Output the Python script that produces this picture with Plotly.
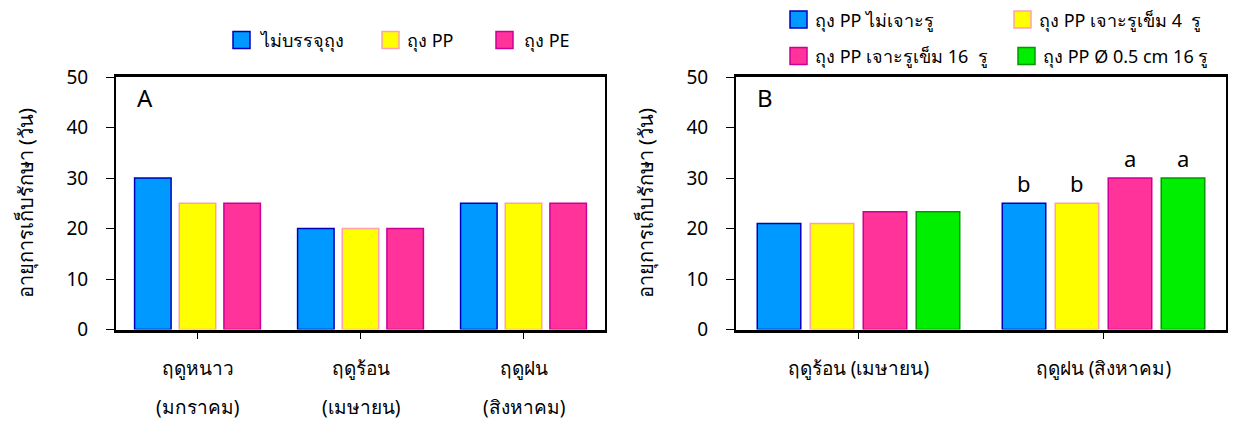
import plotly.graph_objects as go

# ---- data -------------------------------------------------------------
seasons_a = ["ฤดูหนาว", "ฤดูร้อน", "ฤดูฝน"]
months_a = ["(มกราคม)", "(เมษายน)", "(สิงหาคม)"]
names_a = ["ไม่บรรจุถุง", "ถุง PP", "ถุง PE"]
no_bag = [30, 20, 25]
pp_bag = [25, 20, 25]
pe_bag = [25, 20, 25]

seasons_b = ["ฤดูร้อน (เมษายน)", "ฤดูฝน (สิงหาคม)"]
names_b = ["ถุง PP ไม่เจาะรู", "ถุง PP เจาะรูเข็ม 4  รู",
           "ถุง PP เจาะรูเข็ม 16  รู", "ถุง PP Ø 0.5 cm 16 รู"]
pp_no_hole = [21, 25]
pp_pin_4 = [21, 25]
pp_pin_16 = [23.3, 30]
pp_hole_05 = [23.3, 30]
letters_b = [["", "b"], ["", "b"], ["", "a"], ["", "a"]]

y_ticks = [0, 10, 20, 30, 40, 50]
y_title = "อายุการเก็บรักษา (วัน)"

# ---- styling ----------------------------------------------------------
W, H = 1238, 421
FONT = "Tahoma, 'Noto Sans', 'Open Sans', sans-serif"
fills = ["#0099FF", "#FFFF00", "#FF3399", "#00EE00"]
edges = ["#0000BB", "#FFA0B0", "#CC0099", "#009900"]

# plot rectangles (pixels)
A_LEFT, A_RIGHT = 116, 605
B_LEFT, B_RIGHT = 736, 1226
TOP, BOTTOM = 77, 329.5


def px_x(p):
    return p / W


def px_y(p):
    return (H - p) / H


fig = go.Figure()

# Panel A: three bars per season
series_a = [no_bag, pp_bag, pe_bag]
bw_a, slot_a = 0.224, 0.274
for i, (vals, name) in enumerate(zip(series_a, names_a)):
    fig.add_trace(go.Bar(
        x=seasons_a, y=vals, name=name, showlegend=False,
        width=bw_a, offset=(i - 1) * slot_a - bw_a / 2,
        marker=dict(color=fills[i], line=dict(color=edges[i], width=1.5)),
        xaxis="x", yaxis="y",
    ))

# Panel B: four bag treatments per season
series_b = [pp_no_hole, pp_pin_4, pp_pin_16, pp_hole_05]
bw_b, slot_b = 0.1776, 0.2163
cat_px_b = (B_RIGHT - B_LEFT) / len(seasons_b)
for i, (vals, name) in enumerate(zip(series_b, names_b)):
    fig.add_trace(go.Bar(
        x=seasons_b, y=vals, name=name, showlegend=False,
        width=bw_b, offset=(i - 1.5) * slot_b - bw_b / 2,
        marker=dict(color=fills[i], line=dict(color=edges[i], width=1.5)),
        xaxis="x2", yaxis="y2",
    ))

annotations = []
# significance letters above the rainy-season bars
for i, vals in enumerate(series_b):
    for j, letter in enumerate(letters_b[i]):
        if letter:
            annotations.append(dict(
                text=letter, x=seasons_b[j], y=vals[j], xref="x2", yref="y2",
                xshift=(i - 1.5) * slot_b * cat_px_b, yshift=3,
                xanchor="center", yanchor="bottom", showarrow=False,
                font=dict(size=22, color="black", family=FONT)))

# second line of the season labels in panel A
for s, m in zip(seasons_a, months_a):
    annotations.append(dict(text=m, x=s, y=px_y(407), xref="x", yref="paper",
                            xanchor="center", yanchor="middle", showarrow=False,
                            font=dict(size=19, color="black", family=FONT)))

# y-axis titles
for xc in (25, 645):
    annotations.append(dict(text=y_title, x=px_x(xc), y=px_y((TOP + BOTTOM) / 2),
                            xref="paper", yref="paper", textangle=-90,
                            xanchor="center", yanchor="middle", showarrow=False,
                            font=dict(size=20, color="black", family=FONT)))

# panel letters
for lab, xl in (("A", 135), ("B", 755)):
    annotations.append(dict(text=lab, x=px_x(xl), y=px_y(97), xref="paper",
                            yref="paper", xanchor="left", yanchor="middle",
                            showarrow=False,
                            font=dict(size=24, color="black", family=FONT)))

# legend keys: (name, colour index, square left px, text left px, centre y px)
legend_items = [
    (names_a[0], 0, 233, 257, 40),
    (names_a[1], 1, 382, 405, 40),
    (names_a[2], 2, 496, 522, 40),
    (names_b[0], 0, 790, 813, 19.5),
    (names_b[1], 1, 1014, 1037, 19.5),
    (names_b[2], 2, 790, 813, 56),
    (names_b[3], 3, 1018, 1041, 56),
]
shapes = []
for name, ci, sx, tx, cy in legend_items:
    shapes.append(dict(type="rect", xref="paper", yref="paper",
                       x0=px_x(sx), x1=px_x(sx + 17),
                       y0=px_y(cy + 8.5), y1=px_y(cy - 8.5),
                       fillcolor=fills[ci], line=dict(color=edges[ci], width=1.5)))
    annotations.append(dict(text=name, x=px_x(tx), y=px_y(cy), xref="paper",
                            yref="paper", xanchor="left", yanchor="middle",
                            showarrow=False,
                            font=dict(size=18, color="black", family=FONT)))

axis_common = dict(showline=True, linecolor="black", mirror=True,
                   ticks="outside", tickcolor="black",
                   showgrid=False, zeroline=False)

y_common = dict(axis_common, range=[0, 50], tickvals=y_ticks, linewidth=2,
                ticklen=8, ticklabelstandoff=14,
                tickfont=dict(size=19, color="black", family=FONT),
                domain=[px_y(BOTTOM), px_y(TOP)])

x_common = dict(axis_common, linewidth=2.5, ticklen=7, ticklabelstandoff=13,
                tickfont=dict(size=19, color="black", family=FONT))

fig.update_layout(
    width=W, height=H,
    margin=dict(l=0, r=0, t=0, b=0, autoexpand=False),
    paper_bgcolor="white", plot_bgcolor="white",
    barmode="overlay",
    font=dict(family=FONT, size=18, color="black"),
    xaxis=dict(x_common, domain=[px_x(A_LEFT), px_x(A_RIGHT)], anchor="y"),
    yaxis=dict(y_common, anchor="x"),
    xaxis2=dict(x_common, domain=[px_x(B_LEFT), px_x(B_RIGHT)], anchor="y2"),
    yaxis2=dict(y_common, anchor="x2"),
    shapes=shapes,
    annotations=annotations,
)

fig.write_html("out.html")
